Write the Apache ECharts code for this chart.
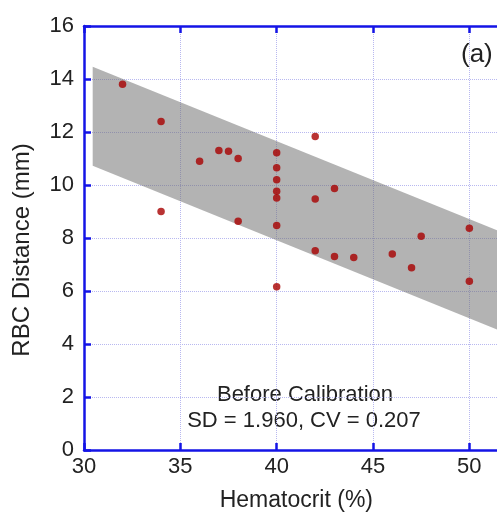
<!DOCTYPE html>
<html>
<head>
<meta charset="utf-8">
<script src="https://cdn.jsdelivr.net/npm/echarts@6/dist/echarts.min.js"></script>
<style>
html,body{margin:0;padding:0;background:#fff;}
#chart{width:497px;height:512px;}
</style>
</head>
<body>
<div id="chart"></div>
<script>
// Data
const hematocrit = [32, 34, 34, 36, 37, 37.5, 38, 38, 40, 40, 40, 40, 40, 40, 40, 42, 42, 42, 43, 43, 44, 46, 47, 47.5, 50, 50];
const rbcDistance = [13.8, 12.4, 9.0, 10.9, 11.3, 11.27, 11.0, 8.63, 11.22, 10.65, 10.2, 9.76, 9.51, 8.47, 6.16, 11.83, 9.47, 7.52, 9.87, 7.3, 7.26, 7.4, 6.88, 8.07, 8.37, 6.37];
const bandX = [30.45, 55];
const bandUpper = [14.46, 7.25];
const bandLower = [10.73, 3.5];
const yTicks = [0, 2, 4, 6, 8, 10, 12, 14, 16];
const xTicks = [30, 35, 40, 45, 50, 55];

const points = hematocrit.map((x, i) => [x, rbcDistance[i]]);
const FONT = '"Liberation Sans", Arial, sans-serif';
const AXIS_BLUE = '#1414e6';
const GRID_COL = '#b8b8f0';

const chart = echarts.init(document.getElementById('chart'), null, {renderer: 'canvas'});
chart.setOption({
  animation: false,
  backgroundColor: '#ffffff',
  grid: {left: 84, top: 26, height: 424, width: 481.7, containLabel: false, outerBoundsMode: 'none'},
  xAxis: [{
    type: 'value', position: 'bottom',
    min: xTicks[0], max: xTicks[xTicks.length - 1], interval: 5,
    name: 'Hematocrit (%)', nameLocation: 'middle', nameGap: 39,
    nameTextStyle: {fontFamily: FONT, fontSize: 23, color: '#222', padding: [0, 57, 0, 0]},
    axisLine: {lineStyle: {color: AXIS_BLUE, width: 2.5}},
    axisTick: {inside: true, length: 7, lineStyle: {color: AXIS_BLUE, width: 2.5}},
    axisLabel: {fontFamily: FONT, fontSize: 22, color: '#222', margin: 6},
    splitLine: {show: true, lineStyle: {color: GRID_COL, type: 'dotted', width: 1}}
  }, {
    type: 'value', position: 'top',
    min: xTicks[0], max: xTicks[xTicks.length - 1], interval: 5,
    axisLine: {lineStyle: {color: AXIS_BLUE, width: 2.5}},
    axisTick: {inside: true, length: 7, lineStyle: {color: AXIS_BLUE, width: 2.5}},
    axisLabel: {show: false},
    splitLine: {show: false}
  }],
  yAxis: {
    type: 'value', min: yTicks[0], max: yTicks[yTicks.length - 1], interval: 2,
    name: 'RBC Distance (mm)', nameLocation: 'middle', nameGap: 50, nameRotate: 90,
    nameTextStyle: {fontFamily: FONT, fontSize: 24, color: '#222', padding: [0, 24, 0, 0]},
    axisLine: {show: true, lineStyle: {color: AXIS_BLUE, width: 2.5}},
    axisTick: {show: true, inside: true, length: 7, lineStyle: {color: AXIS_BLUE, width: 2.5}},
    axisLabel: {fontFamily: FONT, fontSize: 22, color: '#222', margin: 10},
    splitLine: {show: true, lineStyle: {color: GRID_COL, type: 'dotted', width: 1}}
  },
  series: [{
    type: 'custom',
    z: 1,
    clip: true,
    data: [[0]],
    renderItem: function (params, api) {
      const pts = [];
      for (let i = 0; i < bandX.length; i++) pts.push(api.coord([bandX[i], bandUpper[i]]));
      for (let i = bandX.length - 1; i >= 0; i--) pts.push(api.coord([bandX[i], bandLower[i]]));
      return {type: 'polygon', shape: {points: pts}, style: {fill: 'rgba(110,110,110,0.52)', stroke: null}};
    }
  }, {
    type: 'scatter',
    z: 3,
    data: points,
    symbol: 'circle',
    symbolSize: 7.5,
    itemStyle: {color: '#a80000'}
  }],
  graphic: [
    {type: 'text', left: 461, top: 42, style: {text: '(a)', font: '26px ' + FONT, fill: '#222'}},
    {type: 'text', x: 305, y: 395, style: {text: 'Before Calibration', font: '22px ' + FONT, fill: '#222', align: 'center', verticalAlign: 'middle'}},
    {type: 'text', x: 304, y: 421, style: {text: 'SD = 1.960, CV = 0.207', font: '22px ' + FONT, fill: '#222', align: 'center', verticalAlign: 'middle'}}
  ]
});
</script>
</body>
</html>
